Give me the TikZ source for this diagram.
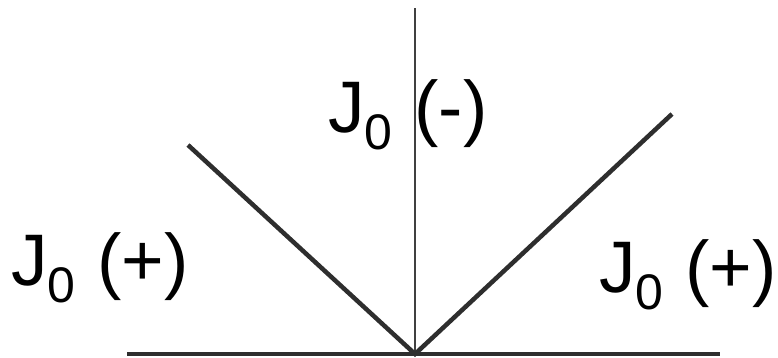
\documentclass[tikz,border=0pt]{standalone}
\usepackage{fontspec}
\setmainfont{Liberation Sans}
\newcommand{\jlab}[1]{J\raisebox{-17pt}{\fontsize{50}{50}\selectfont 0}\hspace{22pt}(#1)}
\begin{document}
\begin{tikzpicture}[x=1pt,y=-1pt,
  thick line/.style={line width=4.5pt, draw=black!82},
  thin line/.style={line width=2pt, draw=black!75},
  lab/.style={inner sep=0pt, anchor=base west, font=\fontsize{73}{73}\selectfont}]
\useasboundingbox (0,0) rectangle (778,358);
\coordinate (O) at (415,354);
\coordinate (L) at (127,354);
\coordinate (R) at (720,354);
\coordinate (T) at (415,8);
\coordinate (DL) at (188,145);
\coordinate (DR) at (672,114);
\draw[thin line] (O) -- (T);
\draw[thick line] (DL) -- (O) -- (DR);
\draw[thick line] (L) -- (R);
\node[lab] (top) at (328,133) {\jlab{-}};
\node[lab] (left) at (11,285) {\jlab{+}};
\node[lab] (right) at (599,292) {\jlab{+}};
\end{tikzpicture}
\end{document}
